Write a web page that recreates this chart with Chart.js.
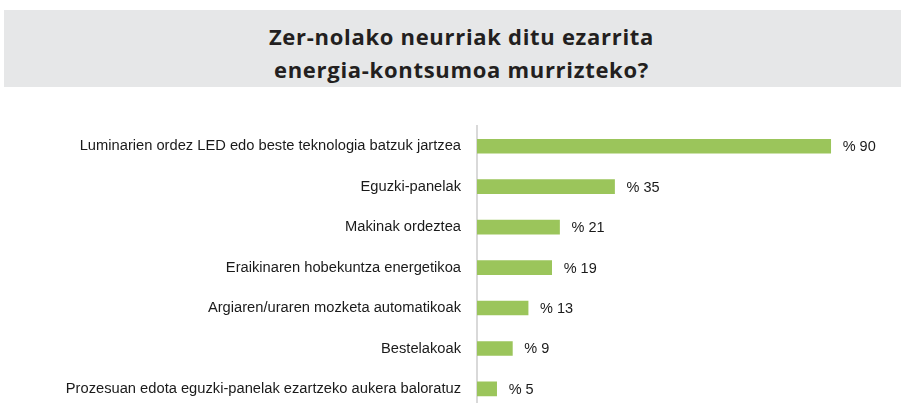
<!DOCTYPE html>
<html>
<head>
<meta charset="utf-8">
<script src="https://cdn.jsdelivr.net/npm/chart.js@4"></script>
<style>
  html, body { margin: 0; padding: 0; background: #fff; overflow: hidden; width: 901px; height: 403px; }
  #band {
    position: absolute; left: 4px; top: 10px; width: 897px; height: 77px;
    background: #e6e7e8;
  }
  #title {
    position: absolute; left: 13px; top: 20px; width: 897px; text-align: center;
    font-family: "Open Sans", sans-serif; font-weight: 700; font-size: 22px; line-height: 33px;
    letter-spacing: 0.7px; color: #231f20;
  }
  #myChart { position: absolute; left: 0; top: 0; }
</style>
</head>
<body>
<div id="band"></div>
<div id="title">Zer-nolako neurriak ditu ezarrita<br>energia-kontsumoa murrizteko?</div>
<canvas id="myChart" width="901" height="426"></canvas>
<script>
const categories = [
  'Luminarien ordez LED edo beste teknologia batzuk jartzea',
  'Eguzki-panelak',
  'Makinak ordeztea',
  'Eraikinaren hobekuntza energetikoa',
  'Argiaren/uraren mozketa automatikoak',
  'Bestelakoak',
  'Prozesuan edota eguzki-panelak ezartzeko aukera baloratuz'
];
const percents = [90, 35, 21, 19, 13, 9, 5];

// value labels at the end of each bar
const valueLabels = {
  id: 'valueLabels',
  afterDatasetsDraw(chart) {
    const ctx = chart.ctx;
    const meta = chart.getDatasetMeta(0);
    ctx.save();
    ctx.font = '14.5px "Liberation Sans"';
    ctx.fillStyle = '#1a1a1a';
    ctx.textBaseline = 'middle';
    meta.data.forEach((bar, i) => {
      ctx.fillText('% ' + percents[i], bar.x + 12, bar.y + 1);
    });
    ctx.restore();
  }
};

const ctx = document.getElementById('myChart').getContext('2d');
const myChart = new Chart(ctx, {
  type: 'bar',
  data: {
    labels: categories,
    datasets: [{
      data: percents,
      backgroundColor: '#9bc55b',
      barThickness: 14
    }]
  },
  options: {
    indexAxis: 'y',
    responsive: false,
    animation: false,
    layout: { padding: { top: 126, right: 31, bottom: 3, left: 0 } },
    plugins: { legend: { display: false }, tooltip: { enabled: false }, title: { display: false } },
    scales: {
      x: { display: false, min: 0, max: 100 },
      y: {
        afterFit(scale) { scale.width = 477; },
        grid: { display: false },
        border: { display: true, color: '#d9d9d9', width: 2 },
        ticks: {
          padding: 8,
          color: '#1a1a1a',
          font: { family: 'Liberation Sans', size: 14.7 }
        }
      }
    }
  },
  plugins: [valueLabels]
});
</script>
</body>
</html>
